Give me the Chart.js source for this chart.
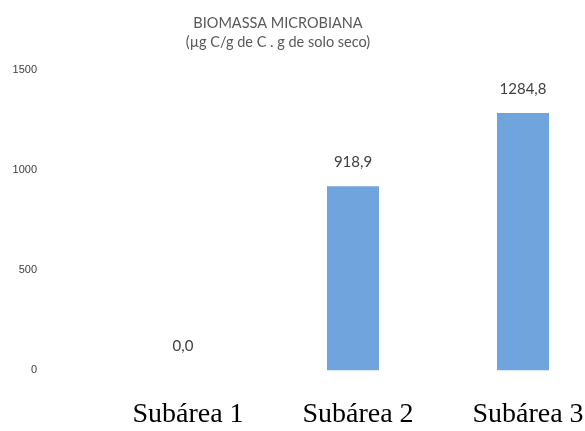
<!DOCTYPE html>
<html>
<head>
<meta charset="utf-8">
<script src="https://cdn.jsdelivr.net/npm/chart.js@4.4.1/dist/chart.umd.min.js"></script>
<style>
html,body{margin:0;padding:0;background:#fff;overflow:hidden;width:585px;height:431px;}
#wrap{position:relative;width:620px;height:458px;}
</style>
</head>
<body>
<div id="wrap"><canvas id="c" width="620" height="458"></canvas></div>
<script>
const categories = ["Subárea 1", "Subárea 2", "Subárea 3"];
const values = [0.0, 918.9, 1284.8];
const yTicks = [0, 500, 1000, 1500];
const titleLines = ["BIOMASSA MICROBIANA", "(µg C/g de C . g de solo seco)"];

const fmt = v => v.toFixed(1).replace('.', ',');

const labelPlugin = {
  id: 'labels',
  afterDatasetsDraw(chart) {
    const ctx = chart.ctx;
    const meta = chart.getDatasetMeta(0);
    ctx.save();
    ctx.font = '15px Lato, "Liberation Sans", Arial, sans-serif';
    ctx.fillStyle = '#404040';
    ctx.textAlign = 'center';
    ctx.textBaseline = 'middle';
    meta.data.forEach((bar, i) => {
      ctx.fillText(fmt(values[i]), bar.x, bar.y - 24);
    });
    // title
    ctx.font = '14.5px Lato, "Liberation Sans", Arial, sans-serif';
    ctx.fillStyle = '#595959';
    titleLines.forEach((t, i) => ctx.fillText(t, 278, 23 + i * 19.5));
    ctx.restore();
  }
};

new Chart(document.getElementById('c'), {
  type: 'bar',
  data: {
    labels: categories,
    datasets: [{
      data: values,
      backgroundColor: '#6fa5dc',
      borderWidth: 0,
      barPercentage: 0.306,
      categoryPercentage: 1.0
    }]
  },
  options: {
    responsive: false,
    animation: false,
    devicePixelRatio: 1,
    layout: { padding: { top: 70, right: 12, left: 0, bottom: 0 } },
    plugins: { legend: { display: false }, title: { display: false }, tooltip: { enabled: false } },
    scales: {
      x: {
        grid: { display: false, drawTicks: false },
        border: { display: false },
        ticks: {
          color: '#000',
          font: { family: '"Liberation Serif", "Times New Roman", serif', size: 28 },
          padding: 27,
          labelOffset: 5,
          maxRotation: 0
        }
      },
      y: {
        min: 0, max: 1500,
        afterBuildTicks(s) { s.ticks = yTicks.map(v => ({ value: v })); },
        grid: { display: false, drawTicks: false },
        border: { display: false },
        ticks: {
          color: '#404040',
          font: { family: '"Liberation Sans", Arial, sans-serif', size: 11 },
          padding: 61,
          callback: v => String(v)
        },
        afterFit(s) { s.width = 98; }
      }
    }
  },
  plugins: [labelPlugin]
});
</script>
</body>
</html>
